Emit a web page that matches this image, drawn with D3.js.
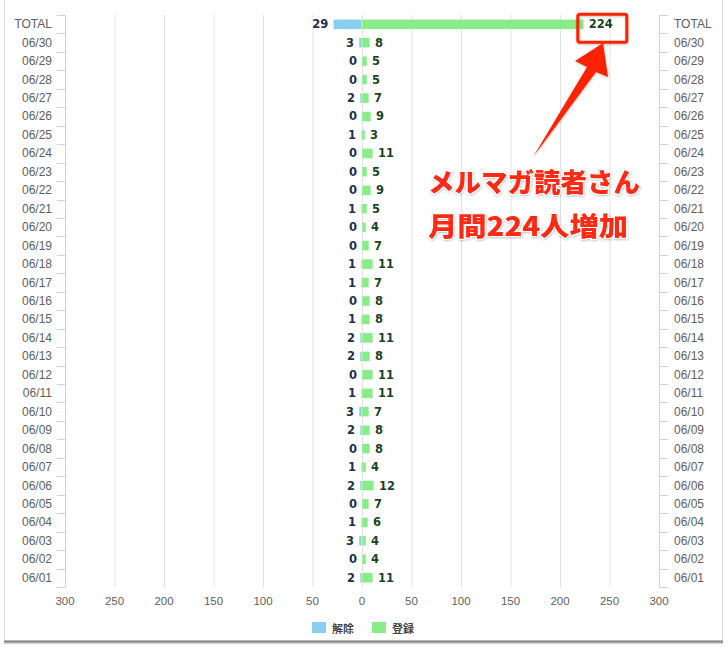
<!DOCTYPE html>
<html>
<head>
<meta charset="utf-8">
<script src="https://cdn.jsdelivr.net/npm/d3@7"></script>
<style>
  html, body { margin: 0; padding: 0; background: #fff; }
  svg { display: block; }
</style>
</head>
<body>
<svg id="chart" width="728" height="647"></svg>
<script>
// ---- data ----
const categories = ["TOTAL","06/30","06/29","06/28","06/27","06/26","06/25","06/24","06/23","06/22","06/21","06/20","06/19","06/18","06/17","06/16","06/15","06/14","06/13","06/12","06/11","06/10","06/09","06/08","06/07","06/06","06/05","06/04","06/03","06/02","06/01"];
const unsubscribed = [29,3,0,0,2,0,1,0,0,0,1,0,0,1,1,0,1,2,2,0,1,3,2,0,1,2,0,1,3,0,2];
const registered = [224,8,5,5,7,9,3,11,5,9,5,4,7,11,7,8,8,11,8,11,11,7,8,8,4,12,7,6,4,4,11];
const xTicks = [-300,-250,-200,-150,-100,-50,0,50,100,150,200,250,300];
const seriesNames = ["解除","登録"];
const annotationLines = ["メルマガ読者さん","月間224人増加"];

const svg = d3.select("#chart");
const blue = "#88cfee", green = "#88ec88";

// frame
svg.append("rect").attr("x",4.5).attr("y",-5).attr("width",718).attr("height",646)
  .attr("fill","#fff").attr("stroke","#dadada");
svg.append("line").attr("x1",4).attr("x2",723).attr("y1",643).attr("y2",643)
  .attr("stroke","#d0d0d0").attr("stroke-width",2);
svg.append("line").attr("x1",4).attr("x2",723).attr("y1",641.5).attr("y2",641.5)
  .attr("stroke","#858585").attr("stroke-width",2);

const x = d3.scaleLinear().domain([-300,300]).range([65,659]);
const y = d3.scaleBand().domain(categories).range([15,587]).paddingInner(0.46).paddingOuter(0.23);
const step = y.step();

// gridlines
svg.append("g").selectAll("line").data(xTicks.filter(t => t !== -300 && t !== 300)).join("line")
  .attr("x1", d => x(d)+0.5).attr("x2", d => x(d)+0.5)
  .attr("y1", 15).attr("y2", 587)
  .attr("stroke","#e2e2e2").attr("stroke-width",1);

// axes lines
const axisColor = "#c4d4e4";
[65, 659].forEach(px => {
  svg.append("line").attr("x1",px+0.5).attr("x2",px+0.5).attr("y1",15).attr("y2",587)
    .attr("stroke",axisColor);
});
// band boundary ticks
const boundaries = d3.range(categories.length+1).map(i => 15 + i*step);
svg.append("g").selectAll("line").data(boundaries).join("line")
  .attr("x1",57).attr("x2",65.5).attr("y1",d=>Math.round(d)+0.5).attr("y2",d=>Math.round(d)+0.5)
  .attr("stroke",axisColor);
svg.append("g").selectAll("line").data(boundaries).join("line")
  .attr("x1",659.5).attr("x2",668).attr("y1",d=>Math.round(d)+0.5).attr("y2",d=>Math.round(d)+0.5)
  .attr("stroke",axisColor);

// category labels
const labelFont = "'Liberation Sans', Arial, sans-serif";
svg.append("g").selectAll("text").data(categories).join("text")
  .attr("x",52).attr("y",d => y(d)+y.bandwidth()/2)
  .attr("text-anchor","end").attr("dominant-baseline","central")
  .attr("font-family",labelFont).attr("font-size","12px").attr("fill","#606060")
  .text(d=>d);
svg.append("g").selectAll("text").data(categories).join("text")
  .attr("x",674).attr("y",d => y(d)+y.bandwidth()/2)
  .attr("text-anchor","start").attr("dominant-baseline","central")
  .attr("font-family",labelFont).attr("font-size","12px").attr("fill","#606060")
  .text(d=>d);

// x tick labels
svg.append("g").selectAll("text").data(xTicks).join("text")
  .attr("x",d=>x(d)).attr("y",601)
  .attr("text-anchor","middle").attr("dominant-baseline","central")
  .attr("font-family",labelFont).attr("font-size","11.5px").attr("fill","#606060")
  .text(d=>Math.abs(d));

// bars
const rows = categories.map((c,i)=>({c, u: unsubscribed[i], r: registered[i]}));
svg.append("g").selectAll("rect").data(rows.filter(d=>d.u>0)).join("rect")
  .attr("x",d=>x(-d.u)).attr("width",d=>x(0)-x(-d.u))
  .attr("y",d=>y(d.c)).attr("height",y.bandwidth())
  .attr("fill",blue).attr("stroke","#fff").attr("stroke-width",0.4);
svg.append("g").selectAll("rect").data(rows.filter(d=>d.r>0)).join("rect")
  .attr("x",x(0)).attr("width",d=>x(d.r)-x(0))
  .attr("y",d=>y(d.c)).attr("height",y.bandwidth())
  .attr("fill",green).attr("stroke","#fff").attr("stroke-width",0.4);

// value labels
const valFont = "'DejaVu Sans', Verdana, sans-serif";
svg.append("g").selectAll("text").data(rows).join("text")
  .attr("x",d=>x(-d.u)-5).attr("y",d=>y(d.c)+y.bandwidth()/2)
  .attr("text-anchor","end").attr("dominant-baseline","central")
  .attr("font-family",valFont).attr("font-weight","bold").attr("font-size","11.5px")
  .attr("fill","#22304a").text(d=>d.u);
svg.append("g").selectAll("text").data(rows).join("text")
  .attr("x",d=>x(d.r)+5).attr("y",d=>y(d.c)+y.bandwidth()/2)
  .attr("text-anchor","start").attr("dominant-baseline","central")
  .attr("font-family",valFont).attr("font-weight","bold").attr("font-size","11.5px")
  .attr("fill","#1d441d").text(d=>d.r);

// legend
const legend = svg.append("g");
const legendItems = [{name: seriesNames[0], color: blue, x: 312}, {name: seriesNames[1], color: green, x: 372}];
legendItems.forEach(it => {
  legend.append("rect").attr("x",it.x).attr("y",622).attr("width",14).attr("height",11).attr("fill",it.color);
  legend.append("text").attr("x",it.x+20).attr("y",628).attr("dominant-baseline","central")
    .attr("font-family","'Noto Sans CJK JP', sans-serif").attr("font-weight","bold")
    .attr("font-size","11px").attr("fill","#444").text(it.name);
});

// annotation
const defs = svg.append("defs");
const f = defs.append("filter").attr("id","sh").attr("x","-20%").attr("y","-20%").attr("width","140%").attr("height","140%");
f.append("feDropShadow").attr("dx",0.5).attr("dy",1).attr("stdDeviation",1).attr("flood-color","#000").attr("flood-opacity",0.25);

const red = "#ff2200";
const total = rows[0];
svg.append("rect")
  .attr("x", x(total.r)-6).attr("y", y(total.c)-5)
  .attr("width", 49).attr("height", y.bandwidth()+18)
  .attr("rx",2).attr("fill","none").attr("stroke",red).attr("stroke-width",3)
  .attr("filter","url(#sh)");

svg.append("path")
  .attr("d","M533,157 L587,67 L575,61 L603,43 L608,77 L596,72 Z")
  .attr("fill",red).attr("filter","url(#sh)");

const ann = svg.append("g").attr("filter","url(#sh)");
[[annotationLines[0],180,212],[annotationLines[1],224,200]].forEach(([t,yy,len]) => {
  ann.append("text").attr("x",428).attr("y",yy)
    .attr("dominant-baseline","central")
    .attr("font-family","'Noto Sans CJK JP', sans-serif").attr("font-weight","900")
    .attr("font-size","26px").attr("fill","#ff2a14")
    .attr("stroke","#fff").attr("stroke-width",2).attr("paint-order","stroke")
    .attr("textLength",len).attr("lengthAdjust","spacingAndGlyphs")
    .text(t);
});
</script>
</body>
</html>
